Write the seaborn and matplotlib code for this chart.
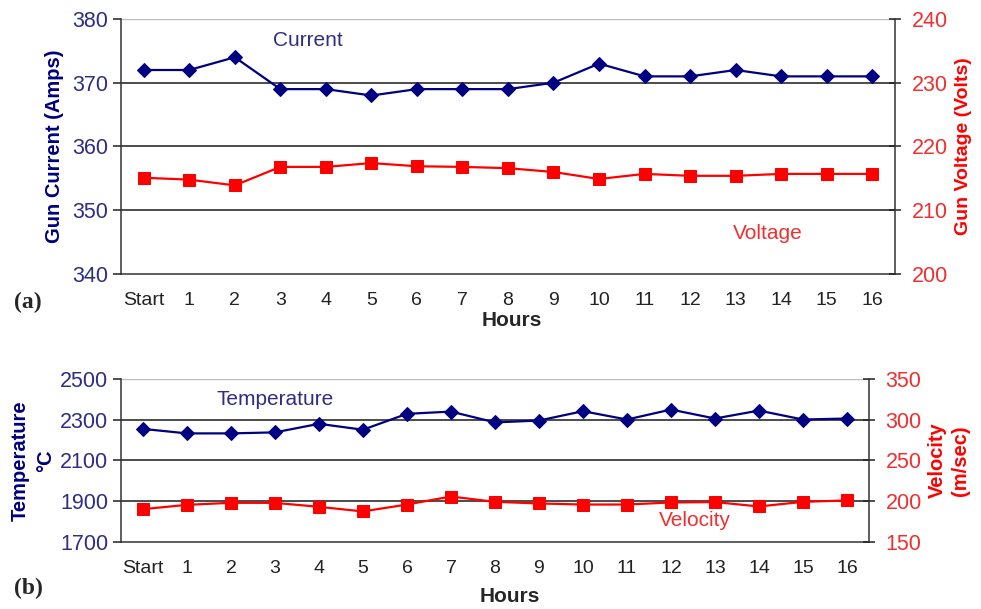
"""
plot.py
Gun current / voltage (a) and temperature / velocity (b) over 16 hours.
"""

import matplotlib
matplotlib.use("Agg")
import matplotlib.pyplot as plt
import numpy as np
import pandas as pd
import seaborn as sns
from matplotlib.ticker import FixedLocator

# ---------------------------------------------------------------------------
HOURS = ["Start"] + [str(h) for h in range(1, 17)]

CURRENT     = [372, 372, 374, 369, 369, 368, 369, 369, 369, 370, 373, 371, 371, 372, 371, 371, 371]
VOLTAGE     = [215.1, 214.8, 213.9, 216.8, 216.8, 217.4, 216.9, 216.8, 216.6, 216.0,
               214.9, 215.7, 215.4, 215.4, 215.7, 215.7, 215.7]
TEMPERATURE = [2255, 2233, 2233, 2238, 2280, 2251, 2329, 2340, 2287, 2296,
               2342, 2301, 2350, 2306, 2345, 2301, 2306]
VELOCITY    = [190.3, 195.6, 198.1, 198.0, 193.2, 187.5, 196.0, 205.8, 199.3, 197.3,
               196.0, 196.0, 198.5, 199.0, 193.6, 199.3, 201.0]

NAVY      = "#000080"
NAVY_TEXT = "#2E2E85"
RED       = "#FF0000"
RED_TEXT  = "#F03030"

sns.set_style("white")
plt.rcParams["font.family"] = ["Liberation Sans", "DejaVu Sans"]

df = pd.DataFrame({
    "pos": np.arange(len(HOURS)),
    "hour": HOURS,
    "current": CURRENT,
    "voltage": VOLTAGE,
    "temperature": TEMPERATURE,
    "velocity": VELOCITY,
})


def style_panel(ax, ax2, left_lim, left_ticks, right_lim, right_ticks):
    n = len(HOURS)
    ax.set_xlim(-0.5, n - 0.5)
    ax.set_ylim(*left_lim)
    ax2.set_ylim(*right_lim)
    ax.set_yticks(left_ticks)
    ax2.set_yticks(right_ticks)

    # category labels centred, tick marks on the boundaries (Excel style)
    ax.set_xticks(df["pos"])
    ax.set_xticklabels(HOURS, fontsize=14, color="#222222")
    ax.xaxis.set_minor_locator(FixedLocator(np.arange(-0.5, n, 1.0)))
    ax.tick_params(axis="x", which="major", length=0, pad=13)
    ax.tick_params(axis="x", which="minor", length=5, width=1.1, color="#222222", direction="out")

    ax.tick_params(axis="y", which="major", length=6, width=1.1, color="#222222",
                   direction="out", labelsize=15.5, labelcolor=NAVY_TEXT, pad=3, left=True)
    ax2.tick_params(axis="y", which="major", length=8, width=1.1, color="#222222",
                    direction="inout", labelsize=15.5, labelcolor=RED_TEXT, pad=8, right=True)

    # black horizontal grid at the left-axis ticks, light line at the top
    for t in left_ticks[1:-1]:
        ax.axhline(t, color="#1a1a1a", lw=1.1, zorder=0)
    ax.axhline(left_lim[1], color="#bdbdbd", lw=1.0, zorder=0)

    for a in (ax, ax2):
        a.spines["top"].set_visible(False)
        for side in ("left", "bottom", "right"):
            a.spines[side].set_color("#333333")
            a.spines[side].set_linewidth(1.1)
        a.set_xlabel("")
    ax.spines["right"].set_visible(False)
    ax2.spines["left"].set_visible(False)
    ax2.spines["bottom"].set_visible(False)


fig = plt.figure(figsize=(9.81, 6.09), dpi=100)

# ---------------------------------------------------------------- panel (a)
ax_a = fig.add_axes([0.1233, 0.5501, 0.7890, 0.4187])
ax_a2 = ax_a.twinx()
sns.lineplot(data=df, x="pos", y="current", ax=ax_a, color=NAVY, lw=1.6,
             marker="D", markersize=7.5, markeredgecolor=NAVY, zorder=3)
sns.lineplot(data=df, x="pos", y="voltage", ax=ax_a2, color=RED, lw=1.6,
             marker="s", markersize=8, markeredgecolor=RED, zorder=3)
style_panel(ax_a, ax_a2, (340, 380), [340, 350, 360, 370, 380],
            (200, 240), [200, 210, 220, 230, 240])
ax_a.set_ylabel("Gun Current (Amps)", fontsize=14.5, fontweight="bold", color=NAVY, labelpad=6)
ax_a2.set_ylabel("Gun Voltage (Volts)", fontsize=14, fontweight="bold", color=RED, labelpad=5)
ax_a.text(3.6, 376.7, "Current", fontsize=15, color=NAVY_TEXT, ha="center", va="center")
ax_a2.text(13.7, 206.3, "Voltage", fontsize=15, color=RED_TEXT, ha="center", va="center")
fig.text(0.5215, 1 - 320 / 609, "Hours", fontsize=15, fontweight="bold",
         ha="center", va="center")
fig.text(0.014, 1 - 302 / 609, "(a)", fontsize=17, fontweight="bold",
         family=["Liberation Serif", "DejaVu Serif"], ha="left", va="center")

# ---------------------------------------------------------------- panel (b)
ax_b = fig.add_axes([0.1233, 0.1100, 0.7625, 0.2677])
ax_b2 = ax_b.twinx()
sns.lineplot(data=df, x="pos", y="temperature", ax=ax_b, color=NAVY, lw=1.6,
             marker="D", markersize=7.5, markeredgecolor=NAVY, zorder=3)
sns.lineplot(data=df, x="pos", y="velocity", ax=ax_b2, color=RED, lw=1.6,
             marker="s", markersize=8, markeredgecolor=RED, zorder=3)
style_panel(ax_b, ax_b2, (1700, 2500), [1700, 1900, 2100, 2300, 2500],
            (150, 350), [150, 200, 250, 300, 350])
ax_b.set_ylabel("Temperature\n\u00b0C", fontsize=14.5, fontweight="bold", color=NAVY,
                labelpad=4, linespacing=1.4)
ax_b2.set_ylabel("Velocity\n(m/sec)", fontsize=14.5, fontweight="bold", color=RED,
                 labelpad=4, linespacing=1.3)
ax_b.text(3.0, 2397, "Temperature", fontsize=15, color=NAVY_TEXT, ha="center", va="center")
ax_b2.text(12.55, 177, "Velocity", fontsize=15, color=RED_TEXT, ha="center", va="center")
fig.text(0.5195, 1 - 597 / 609, "Hours", fontsize=15, fontweight="bold",
         ha="center", va="center")
fig.text(0.014, 1 - 588 / 609, "(b)", fontsize=17, fontweight="bold",
         family=["Liberation Serif", "DejaVu Serif"], ha="left", va="center")

fig.savefig("out.png", dpi=100)
plt.close(fig)
